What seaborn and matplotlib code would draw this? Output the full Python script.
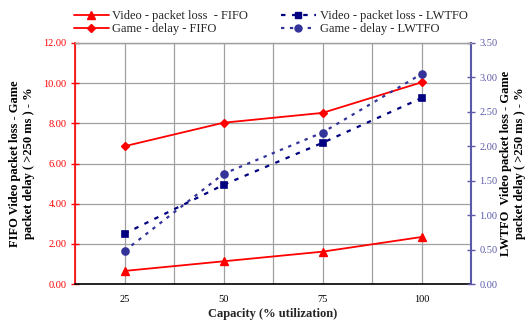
import matplotlib
matplotlib.use("Agg")
import matplotlib.pyplot as plt
import seaborn as sns
import pandas as pd
import numpy as np
from matplotlib.ticker import MultipleLocator, FixedLocator
from matplotlib.lines import Line2D

capacity = ["25", "50", "75", "100"]
video_loss_fifo = [0.65, 1.13, 1.61, 2.34]
game_delay_fifo = [6.86, 8.03, 8.52, 10.04]
video_loss_lwtfo = [0.73, 1.44, 2.05, 2.70]
game_delay_lwtfo = [0.48, 1.60, 2.20, 3.05]

sns.set_style("white")
plt.rcParams["font.family"] = ["Liberation Serif", "DejaVu Serif"]

RED = "#ff0000"
NAVY = "#000080"
BLUE = "#333399"
RAX = "#5a5aa8"

fig = plt.figure(figsize=(5.29, 3.25), dpi=100)
ax = fig.add_axes([75/529, 1-284/325, 396/529, 241/325])
ax2 = ax.twinx()

df = pd.DataFrame({"cap": capacity, "vf": video_loss_fifo, "gf": game_delay_fifo,
                   "vl": video_loss_lwtfo, "gl": game_delay_lwtfo})

sns.pointplot(data=df, x="cap", y="vf", ax=ax, color=RED, marker="^", markersize=6,
              linewidth=1.3, errorbar=None)
sns.pointplot(data=df, x="cap", y="gf", ax=ax, color=RED, marker="D", markersize=4.5,
              linewidth=1.3, errorbar=None)
sns.pointplot(data=df, x="cap", y="vl", ax=ax2, color=NAVY, marker="s", markersize=5,
              linewidth=1.6, linestyle=(0, (2, 3)), errorbar=None)
sns.pointplot(data=df, x="cap", y="gl", ax=ax2, color=BLUE, marker="o", markersize=5,
              linewidth=1.6, linestyle=(0, (1.5, 2.5)), errorbar=None)

ax.set_xlim(-0.5, 3.5)
ax.set_ylim(0, 12)
ax2.set_ylim(0, 3.5)

ax.yaxis.set_major_locator(MultipleLocator(2))
ax.set_yticklabels([f"{v:.2f}" for v in ax.get_yticks()])
ax2.yaxis.set_major_locator(MultipleLocator(0.5))
ax2.set_yticklabels([f"{v:.2f}" for v in ax2.get_yticks()])

ax.xaxis.set_major_locator(FixedLocator([0, 1, 2, 3]))
ax.set_xticklabels(capacity)
ax.xaxis.set_minor_locator(FixedLocator([-0.5, 0.5, 1.5, 2.5, 3.5]))
ax.tick_params(axis="x", which="major", length=0, labelsize=7.5, pad=8, colors="black")
ax.tick_params(axis="x", which="minor", length=4, width=1, direction="out", color="black")

ax.tick_params(axis="y", length=6, width=1, direction="inout", colors=RED, labelsize=7.5, pad=3)
ax2.tick_params(axis="y", length=6, width=1, direction="inout", colors=RAX, labelsize=7.5, pad=3)

ax.grid(True, which="both", axis="x", color="#a0a0a0", linewidth=0.9)
ax.grid(True, which="major", axis="y", color="#a0a0a0", linewidth=0.9)
ax.set_axisbelow(True)

for a in (ax, ax2):
    a.spines["top"].set_color("#a0a0a0")
    a.spines["top"].set_linewidth(0.9)
ax.spines["left"].set_color(RED)
ax.spines["left"].set_linewidth(1.2)
ax.spines["bottom"].set_color("black")
ax.spines["bottom"].set_linewidth(1.2)
ax2.spines["right"].set_color(RAX)
ax2.spines["right"].set_linewidth(1.5)
ax2.spines["left"].set_visible(False)
ax2.spines["bottom"].set_visible(False)
ax.spines["right"].set_visible(False)

ax.set_xlabel("Capacity (% utilization)", fontsize=9, fontweight="bold", labelpad=3)
ax.set_ylabel("FIFO Video packet loss - Game\npacket delay ( >250 ms ) - %",
              fontsize=9, fontweight="bold", labelpad=6, color="black")
ax2.set_ylabel("LWTFO  Video packet loss - Game\npacket delay ( >250 ms ) - %",
               fontsize=9, fontweight="bold", labelpad=2, color="black", rotation=90,
               linespacing=1.15)

handles = [
    Line2D([], [], color=RED, marker="^", markersize=6, lw=1.3),
    Line2D([], [], color=RED, marker="D", markersize=4.5, lw=1.3),
    Line2D([], [], color=NAVY, marker="s", markersize=5, lw=1.6, linestyle=(0, (2, 3))),
    Line2D([], [], color=BLUE, marker="o", markersize=5, lw=1.6, linestyle=(0, (1.5, 2.5))),
]
labels = ["Video - packet loss  - FIFO", "Game - delay - FIFO",
          "Video - packet loss - LWTFO", "Game - delay - LWTFO"]
fig.legend(handles, labels, ncol=2, loc="upper left", bbox_to_anchor=(65/529, 0.995),
           frameon=False, fontsize=9, handlelength=2.8, handletextpad=0.3,
           labelspacing=0.05, columnspacing=2.6, borderpad=0.2)

fig.savefig("out.png", dpi=100)
